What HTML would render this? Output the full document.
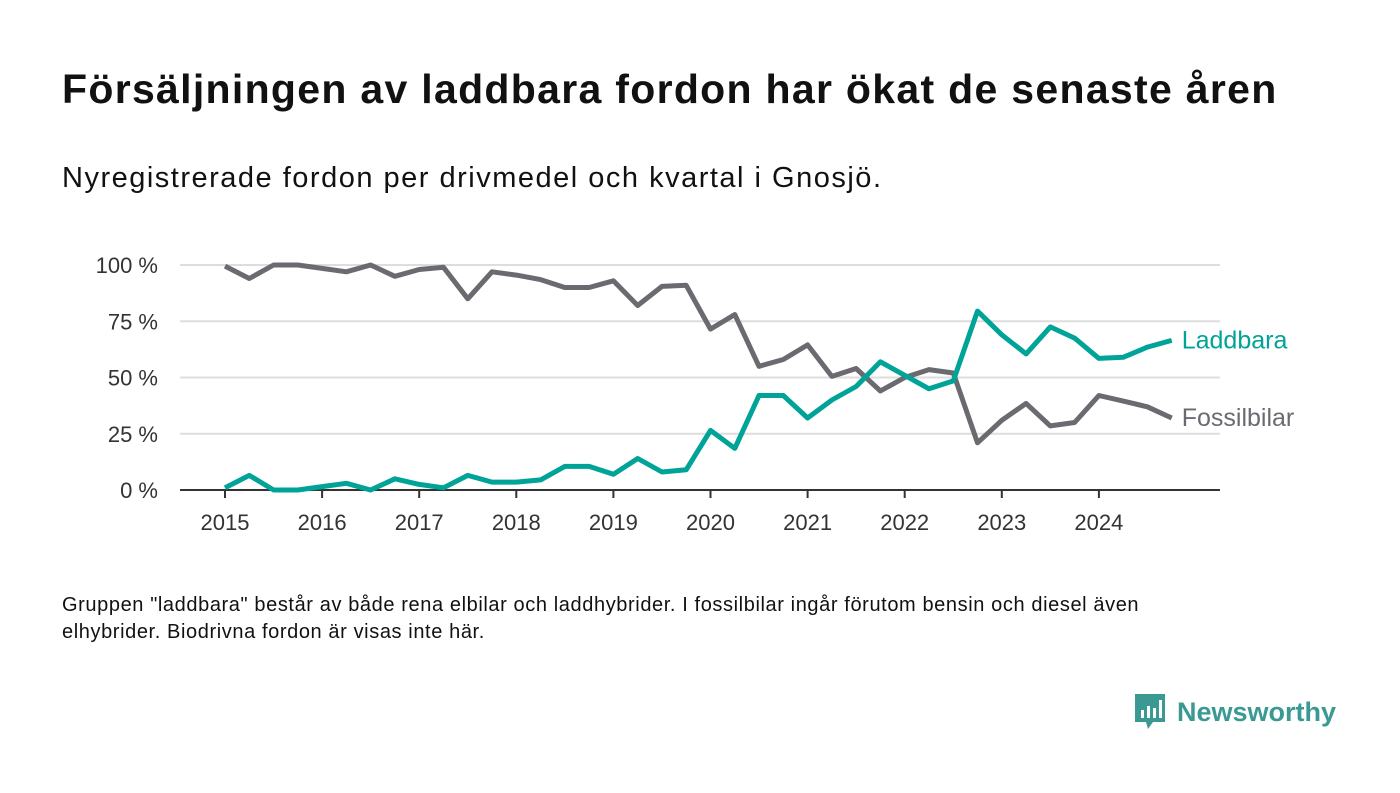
<!DOCTYPE html>
<html><head><meta charset="utf-8"><style>
body{margin:0;width:1400px;height:793px;background:#fff;font-family:"Liberation Sans","DejaVu Sans",sans-serif;color:#111;overflow:hidden;position:relative}
.t{position:absolute;left:62px;top:66px;font-size:41px;letter-spacing:1.3px;font-weight:bold;margin:0;color:#111}
.s{position:absolute;left:62px;top:162px;font-size:29px;letter-spacing:1.5px;color:#111}
.f{position:absolute;left:62px;top:592px;font-size:20px;letter-spacing:0.6px;line-height:27px;width:1110px}
.logo{position:absolute;left:1133px;top:692px;display:flex;align-items:center;gap:10px;color:#3a9a93;font-size:27px;font-weight:bold}
</style></head><body>
<h1 class="t">Försäljningen av laddbara fordon har ökat de senaste åren</h1>
<div class="s">Nyregistrerade fordon per drivmedel och kvartal i Gnosjö.</div>
<svg id="c" width="1400" height="560" style="position:absolute;left:0;top:0"></svg>
<div class="f">Gruppen "laddbara" består av både rena elbilar och laddhybrider. I fossilbilar ingår förutom bensin och diesel även elhybrider. Biodrivna fordon är visas inte här.</div>
<div class="logo">
<svg width="34" height="40" viewBox="0 0 34 40"><path d="M2 2h30v28H20l-5 7-2-7H2z" fill="#3a9a93"/><rect x="8" y="18" width="3" height="8" fill="#fff"/><rect x="14" y="14" width="3" height="12" fill="#fff"/><rect x="20" y="16" width="3" height="10" fill="#fff"/><rect x="26" y="8" width="3" height="18" fill="#fff"/></svg>
<span>Newsworthy</span></div>
<script>
const years=[2015,2016,2017,2018,2019,2020,2021,2022,2023,2024];
const yTicks=[0,25,50,75,100];
const fossil=[99.5,94,100,100,98.5,97,100,95,98,99,85,97,95.5,93.5,90,90,93,82,90.5,91,71.5,78,55,58,64.5,50.5,54,44,50,53.5,52,21,31,38.5,28.5,30,42,39.5,37,32];
const laddbara=[1,6.5,0,0,1.5,3,0,5,2.5,1,6.5,3.5,3.5,4.5,10.5,10.5,7,14,8,9,26.5,18.5,42,42,32,40,46,57,51,45,48.5,79.5,69,60.5,72.5,67.5,58.5,59,63.5,66.5];
const svg=document.getElementById('c');const NS='http://www.w3.org/2000/svg';
const x=t=>225+(t-2015)*97.1;const y=v=>490-v*2.25;
function mk(tag,a){const e=document.createElementNS(NS,tag);for(const k in a)e.setAttribute(k,a[k]);svg.appendChild(e);return e;}
yTicks.forEach(v=>{
 if(v>0){const g=mk('line',{x1:180,x2:1220,y1:y(v),y2:y(v),stroke:'#ddd','stroke-width':2});
 
 }
 const t=mk('text',{x:158,y:y(v)+8,'text-anchor':'end','font-size':22,fill:'#333','font-family':'Liberation Sans, sans-serif'});t.textContent=v+' %';
 
 
});
const ax=mk('line',{x1:180,x2:1220,y1:490,y2:490,stroke:'#333','stroke-width':2});


years.forEach(yr=>{
 const tk=mk('line',{x1:x(yr),x2:x(yr),y1:490,y2:498,stroke:'#333','stroke-width':2});
 
 
 const t=mk('text',{x:x(yr),y:530,'text-anchor':'middle','font-size':22,fill:'#333','font-family':'Liberation Sans, sans-serif'});t.textContent=yr;
 
 
});
function series(d,col,name,label){
 const pts=d.map((v,i)=>x(2015+i/4).toFixed(1)+','+y(v).toFixed(1)).join(' ');
 const p=mk('polyline',{points:pts,fill:'none',stroke:col,'stroke-width':5,'stroke-linejoin':'round'});
 
 
 const last=d[d.length-1];
 const t=mk('text',{x:x(2015+(d.length-1)/4)+10,y:y(last)+8,'font-size':25,fill:col,'font-family':'Liberation Sans, sans-serif'});t.textContent=label;
 
 
}
series(fossil,'#6b6a70','fossilbilar','Fossilbilar');
series(laddbara,'#00a398','laddbara','Laddbara');
</script>
</body></html>
